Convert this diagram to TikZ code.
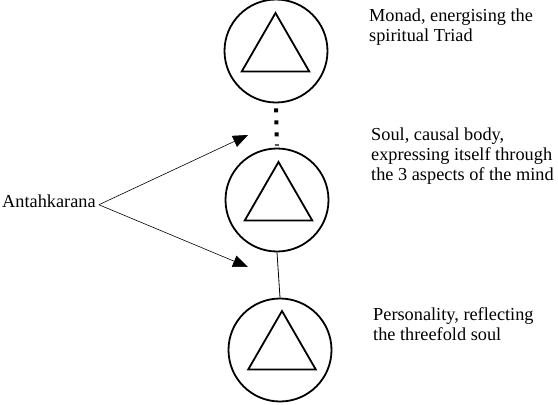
\documentclass[tikz,border=0pt]{standalone}
\usepackage{fontspec}
\setmainfont{Liberation Serif}
\usetikzlibrary{arrows.meta,shapes.geometric}
\tikzset{
  ring/.style={circle,draw,line width=1.8pt,minimum size=103pt,inner sep=0pt},
  tri/.style={regular polygon,regular polygon sides=3,draw,line width=1.8pt,minimum size=78pt,inner sep=0pt},
  txt/.style={inner sep=0pt,font=\fontsize{18.3}{19.7}\selectfont},
  lbl/.style={txt,anchor=base west,align=left},
  arr/.style={line width=0.6pt,-{Triangle[length=15pt,width=12pt]}},
  dots/.style={line width=4pt,dash pattern=on 4pt off 8pt},
  link/.style={line width=0.8pt}
}
\begin{document}
\begin{tikzpicture}[x=1pt,y=-1pt]
\useasboundingbox (0,0) rectangle (558,405);
\node[ring] (c1) at (276,51) {};
\node[ring] (c2) at (277,200) {};
\node[ring] (c3) at (280,350) {};
\node[tri] (t1) at (275.5,52) {};
\node[tri] (t2) at (278.5,201) {};
\node[tri] (t3) at (282,350) {};
\draw[dots] ([yshift=-5pt]c1.south) -- ([yshift=2pt]c2.north);
\draw[link] (c2.south) -- (c3.north);
\node[txt,anchor=base west] (ant) at (2,207) {Antahkarana};
\coordinate (a1) at (248,135);
\coordinate (a2) at (248,267);
\draw[arr] ([xshift=3pt,yshift=-4pt]ant.east) -- (a1);
\draw[arr] ([xshift=3pt,yshift=-4pt]ant.east) -- (a2);
\node[lbl] (m) at (369,41) {Monad, energising the\\spiritual Triad};
\node[lbl] (s) at (371,180) {Soul, causal body,\\expressing itself through\\the 3 aspects of the mind};
\node[lbl] (p) at (373,340) {Personality, reflecting\\the threefold soul};
\end{tikzpicture}
\end{document}
